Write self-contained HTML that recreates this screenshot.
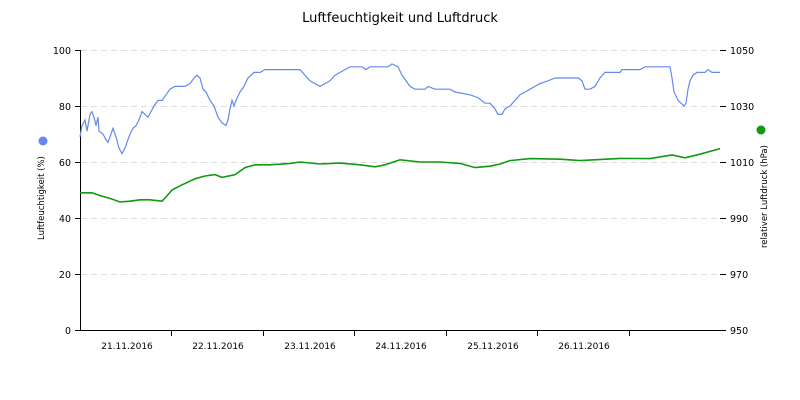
<!DOCTYPE html>
<html><head><meta charset="utf-8"><style>
body{margin:0;background:#fff;}
svg{display:block;font-family:"DejaVu Sans","Liberation Sans",sans-serif;}
</style></head><body>
<svg id="c" width="800" height="400" viewBox="0 0 800 400">
<text x="400" y="22" text-anchor="middle" font-size="13" fill="#000">Luftfeuchtigkeit und Luftdruck</text>
<g stroke="#ddd" stroke-dasharray="6,4" stroke-width="1">
<line x1="81" y1="50.5" x2="720" y2="50.5"/>
<line x1="81" y1="106.5" x2="720" y2="106.5"/>
<line x1="81" y1="162.5" x2="720" y2="162.5"/>
<line x1="81" y1="218.5" x2="720" y2="218.5"/>
<line x1="81" y1="274.5" x2="720" y2="274.5"/>
</g>
<g stroke="#000" stroke-width="1">
<line x1="80.5" y1="50" x2="80.5" y2="330"/>
<line x1="80" y1="330.5" x2="720" y2="330.5"/>
<line x1="75" y1="50.5" x2="80" y2="50.5"/><line x1="75" y1="106.5" x2="80" y2="106.5"/><line x1="75" y1="162.5" x2="80" y2="162.5"/><line x1="75" y1="218.5" x2="80" y2="218.5"/><line x1="75" y1="274.5" x2="80" y2="274.5"/><line x1="75" y1="330.5" x2="80" y2="330.5"/>
<line x1="720" y1="50.5" x2="726" y2="50.5"/><line x1="720" y1="106.5" x2="726" y2="106.5"/><line x1="720" y1="162.5" x2="726" y2="162.5"/><line x1="720" y1="218.5" x2="726" y2="218.5"/><line x1="720" y1="274.5" x2="726" y2="274.5"/><line x1="720" y1="330.5" x2="726" y2="330.5"/>
<line x1="171.5" y1="330" x2="171.5" y2="336"/><line x1="263.5" y1="330" x2="263.5" y2="336"/><line x1="354.5" y1="330" x2="354.5" y2="336"/><line x1="446.5" y1="330" x2="446.5" y2="336"/><line x1="537.5" y1="330" x2="537.5" y2="336"/><line x1="629.5" y1="330" x2="629.5" y2="336"/>
</g>
<g font-size="9.5" fill="#000" text-anchor="end">
<text x="71" y="54">100</text><text x="71" y="110">80</text><text x="71" y="166">60</text><text x="71" y="222">40</text><text x="71" y="278">20</text><text x="71" y="334">0</text>
</g>
<g font-size="9.5" fill="#000">
<text x="730" y="54">1050</text><text x="730" y="110">1030</text><text x="730" y="166">1010</text><text x="730" y="222">990</text><text x="730" y="278">970</text><text x="730" y="334">950</text>
</g>
<g font-size="9" fill="#000" text-anchor="middle">
<text x="127" y="349">21.11.2016</text><text x="218" y="349">22.11.2016</text><text x="310" y="349">23.11.2016</text><text x="401" y="349">24.11.2016</text><text x="493" y="349">25.11.2016</text><text x="584" y="349">26.11.2016</text>
</g>
<circle cx="43" cy="141" r="4.5" fill="#6688ee"/>
<text transform="translate(44,240) rotate(-90)" font-size="8.5" fill="#000">Luftfeuchtigkeit (%)</text>
<circle cx="761" cy="130" r="4.5" fill="#119911"/>
<text transform="translate(767,248) rotate(-90)" font-size="8.5" fill="#000">relativer Luftdruck (hPa)</text>
<polyline id="b" fill="none" stroke="#6688ee" stroke-width="1.2"/>
<polyline id="g" fill="none" stroke="#119911" stroke-width="1.6"/>
</svg>
<script>
var h=[80,69,82,73,85,75,87,71,90,77,92,78,94,76,96,73,98,76,99,71,103,70,106,68,108,67,110,69,113,72,116,69,119,65,122,63,125,65,128,68,130,70,133,72,136,73,139,75,142,78,145,77,148,76,151,78,154,80,158,82,162,82,166,84,170,86,175,87,185,87,190,88,194,90,197,91,200,90,203,86,206,85,210,82,214,80,218,76,222,74,226,73,228,75,230,79,232,82,234,80,236,82,240,85,244,87,248,90,254,92,260,92,265,93,300,93,310,89,315,88,320,87,325,88,330,89,335,91,340,92,345,93,350,94,362,94,366,93,370,94,388,94,392,95,398,94,402,91,410,87,415,86,425,86,428,87,435,86,450,86,455,85,470,84,478,83,485,81,490,81,495,79,498,77,502,77,505,79,510,80,515,82,520,84,525,85,530,86,535,87,540,88,548,89,555,90,578,90,582,89,585,86,590,86,595,87,600,90,605,92,620,92,622,93,640,93,645,94,670,94,672,90,674,85,678,82,684,80,686,81,688,86,690,89,693,91,697,92,705,92,708,93,712,92,720,92];
var p=[80,999,92,999,100,998,110,997,120,995.7,130,996,140,996.5,150,996.5,162,996,166,997.5,172,1000,180,1001.5,195,1004,205,1005,215,1005.5,222,1004.5,235,1005.5,245,1008,255,1009,270,1009,290,1009.5,300,1010,320,1009.3,340,1009.6,360,1009,375,1008.3,385,1009,400,1010.8,420,1010,440,1010,460,1009.5,475,1008,490,1008.5,500,1009.3,510,1010.5,530,1011.2,560,1011,580,1010.5,620,1011.3,650,1011.2,672,1012.5,685,1011.5,700,1012.8,720,1014.8];
var s="";for(var i=0;i<h.length;i+=2)s+=h[i]+","+(330-2.8*h[i+1]).toFixed(1)+" ";
document.getElementById("b").setAttribute("points",s);
s="";for(i=0;i<p.length;i+=2)s+=p[i]+","+(330-2.8*(p[i+1]-950)).toFixed(1)+" ";
document.getElementById("g").setAttribute("points",s);
</script>
</body></html>
